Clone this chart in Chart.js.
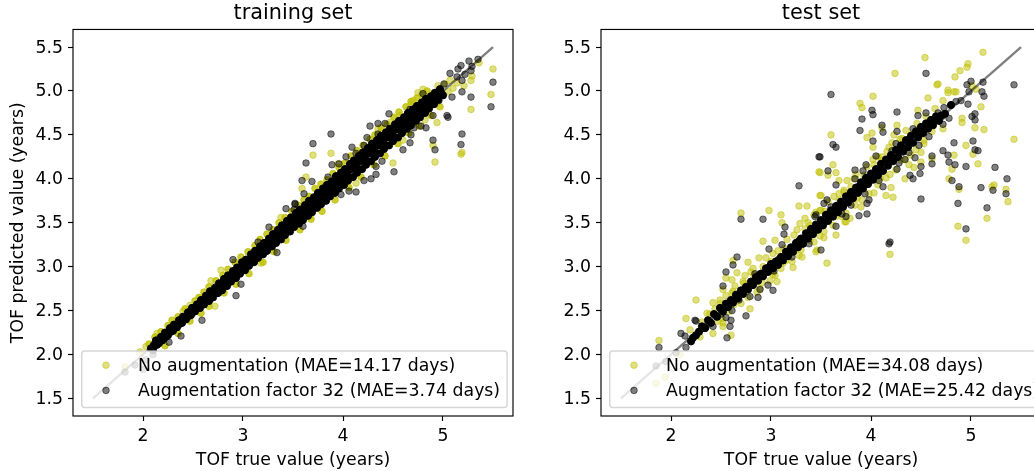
<!DOCTYPE html>
<html>
<head>
<meta charset="utf-8">
<title>TOF predicted vs true</title>
<script src="https://cdn.jsdelivr.net/npm/chart.js@4"></script>
<style>
    html, body { margin: 0; background: #fff; overflow: hidden; }
    #wrap { position: relative; width: 1034px; height: 471px; overflow: hidden; }
    canvas { position: absolute; top: 0; }
    #trainChart { left: 0; }
    #testChart { left: 528px; }
</style>
</head>
<body>
<div id="wrap">
    <canvas id="trainChart" width="530" height="471"></canvas>
    <canvas id="testChart" width="530" height="471"></canvas>
</div>
<script>
const xTicks = [2, 3, 4, 5];
const yTicks = [1.5, 2, 2.5, 3, 3.5, 4, 4.5, 5, 5.5];
const diagonal = [[1.5, 1.5], [5.5, 5.5]];

const trainLabels = ["No augmentation (MAE=14.17 days)", "Augmentation factor 32 (MAE=3.74 days)"];
const testLabels = ["No augmentation (MAE=34.08 days)", "Augmentation factor 32 (MAE=25.42 days)"];

// the loose points, then the overplotted band on its own
const trainNoAug = [
    [5.50,5.25],[5.48,4.96],[5.28,4.79],[5.36,5.32],[5.29,5.17],[5.28,5.12],[5.18,4.28],[5.19,4.30],[4.92,4.19],[4.90,4.38],
    [4.94,4.64],[4.75,4.98],[4.80,5.02],[3.88,4.29],[3.70,4.27],[4.50,4.18],[3.63,4.02],[3.59,3.89],[4.35,4.57],[4.68,4.84],
    [4.57,4.72],[4.47,4.64],[4.90,4.97],[4.95,5.06],[5.07,5.12],[5.21,5.06],[3.95,4.17],[3.67,3.57],[4.13,3.95],[4.60,4.44],
    [4.82,4.67],[4.70,4.89],[3.38,3.56],[2.78,2.96],[2.68,2.84],[2.47,2.56],[2.40,2.49],[2.14,2.24],[2.03,2.09],[1.97,2.03],
    [2.72,2.55],[3.18,3.04],[1.82,1.86],[5.02,5.08],[5.10,5.03],[5.14,5.09],[5.05,4.99]
];
const trainNoAugBand = [
    [2.06,2.12],[2.12,2.20],[2.18,2.26],[2.25,2.33],[2.29,2.39],[2.35,2.43],[2.42,2.52],[2.52,2.61],[2.56,2.65],[2.61,2.71],
    [2.66,2.77],[2.73,2.84],[2.80,2.90],[2.85,2.97],[2.92,3.05],[2.98,3.11],[3.05,3.17],[3.12,3.24],[3.17,3.31],[3.24,3.37],
    [3.30,3.42],[3.36,3.50],[3.42,3.56],[3.49,3.63],[3.55,3.70],[3.61,3.76],[3.66,3.80],[3.72,3.89],[3.78,3.94],[3.84,3.99],
    [3.90,4.06],[3.96,4.13],[4.02,4.18],[4.08,4.26],[4.14,4.32],[4.20,4.38],[4.27,4.45],[4.32,4.50],[4.38,4.58],[4.44,4.62],
    [4.51,4.70],[4.56,4.76],[4.63,4.82],[4.68,4.88],[4.74,4.92],[4.79,4.96],[4.84,5.00],
    [2.22,2.10],[2.35,2.24],[2.47,2.38],[2.58,2.47],[2.66,2.55],[2.81,2.70],[2.93,2.80],[3.06,2.92],[3.20,3.05],[3.31,3.17],
    [3.43,3.30],[3.57,3.42],[3.68,3.54],[3.79,3.63],[3.92,3.76],[4.06,3.90],[4.18,4.02],[4.31,4.16],[4.42,4.26],[4.55,4.40],
    [4.66,4.52],[4.76,4.60],[4.88,4.72],[4.97,4.82]
];
const trainAug = [
    [3.88,4.51],[3.70,4.40],[3.63,4.18],[3.59,3.98],[3.69,3.97],[3.52,3.71],[3.61,3.83],[3.89,4.16],[3.85,4.02],[3.96,4.17],
    [4.09,4.36],[4.03,4.25],[4.13,4.29],[4.21,4.38],[4.24,4.47],[4.27,4.60],[4.35,4.63],[4.42,4.63],[4.46,4.74],[4.35,4.51],
    [4.67,4.79],[4.80,4.97],[5.01,5.08],[5.07,5.20],[5.14,5.16],[5.18,5.29],[5.26,5.34],[5.29,5.28],[5.15,5.25],[5.22,5.19],
    [5.28,5.23],[5.35,5.36],[5.19,4.99],[5.28,4.93],[5.09,4.93],[5.50,5.10],[5.48,4.82],[5.19,4.51],[5.18,4.39],[4.90,4.44],
    [4.92,4.33],[5.04,4.72],[5.05,4.70],[4.90,4.72],[4.78,4.60],[4.83,4.58],[4.67,4.41],[4.60,4.33],[4.51,4.08],[4.33,4.05],
    [4.28,4.00],[4.21,3.98],[4.33,4.14],[4.39,4.20],[4.13,3.85],[4.06,3.86],[3.98,3.82],[4.68,4.50],[4.71,4.58],[4.96,4.89],
    [5.19,5.12],[3.60,3.46],[3.43,3.66],[3.52,3.72],[3.51,3.65],[3.26,3.45],[2.90,3.08],[2.93,2.67],[2.59,2.39],[2.38,2.21],
    [2.26,2.14],[2.98,2.80],[3.34,3.16],[3.15,3.28],[1.82,1.80],[1.92,1.88],[2.00,1.83],[2.03,1.94],[2.10,2.00]
];
const trainAugBand = [
    [2.08,2.07],[2.10,2.05],[2.11,2.11],[2.13,2.16],[2.14,2.11],[2.16,2.13],[2.18,2.20],[2.19,2.16],[2.21,2.18],[2.22,2.25],
    [2.24,2.21],[2.25,2.22],[2.27,2.30],[2.28,2.26],[2.30,2.27],[2.31,2.34],[2.33,2.31],[2.34,2.31],[2.36,2.39],[2.37,2.35],
    [2.39,2.36],[2.40,2.43],[2.42,2.40],[2.43,2.40],[2.45,2.48],[2.46,2.44],[2.48,2.45],[2.49,2.53],[2.51,2.49],[2.52,2.49],
    [2.54,2.57],[2.55,2.54],[2.57,2.53],[2.58,2.62],[2.60,2.59],[2.61,2.57],[2.63,2.67],[2.64,2.63],[2.66,2.61],[2.67,2.72],
    [2.69,2.68],[2.70,2.65],[2.72,2.76],[2.73,2.72],[2.75,2.70],[2.76,2.81],[2.78,2.77],[2.79,2.73],[2.81,2.86],[2.82,2.82],
    [2.84,2.78],[2.85,2.90],[2.87,2.86],[2.88,2.83],[2.90,2.95],[2.91,2.91],[2.93,2.87],[2.94,2.99],[2.96,2.95],[2.97,2.92],
    [2.99,3.05],[3.00,3.00],[3.02,2.96],[3.03,3.08],[3.05,3.04],[3.06,3.01],[3.08,3.14],[3.09,3.10],[3.11,3.05],[3.12,3.18],
    [3.14,3.13],[3.15,3.10],[3.17,3.23],[3.18,3.19],[3.20,3.14],[3.21,3.27],[3.23,3.23],[3.24,3.18],[3.26,3.32],[3.27,3.28],
    [3.29,3.23],[3.30,3.37],[3.32,3.33],[3.33,3.27],[3.35,3.42],[3.36,3.37],[3.38,3.31],[3.39,3.47],[3.41,3.41],[3.42,3.36],
    [3.44,3.52],[3.45,3.46],[3.47,3.40],[3.48,3.56],[3.50,3.51],[3.51,3.45],[3.53,3.61],[3.54,3.56],[3.56,3.49],[3.57,3.65],
    [3.59,3.60],[3.60,3.53],[3.62,3.70],[3.63,3.65],[3.65,3.58],[3.66,3.75],[3.68,3.69],[3.69,3.62],[3.71,3.79],[3.72,3.74],
    [3.74,3.67],[3.75,3.84],[3.77,3.78],[3.78,3.71],[3.80,3.89],[3.81,3.83],[3.83,3.75],[3.84,3.93],[3.86,3.88],[3.87,3.80],
    [3.89,3.97],[3.90,3.92],[3.92,3.84],[3.93,4.03],[3.95,3.97],[3.96,3.89],[3.98,4.07],[3.99,4.01],[4.01,3.93],[4.02,4.11],
    [4.04,4.06],[4.05,3.98],[4.07,4.17],[4.08,4.11],[4.10,4.02],[4.11,4.21],[4.13,4.15],[4.14,4.07],[4.16,4.26],[4.17,4.20],
    [4.19,4.11],[4.20,4.30],[4.22,4.24],[4.23,4.16],[4.25,4.35],[4.26,4.29],[4.28,4.20],[4.29,4.40],[4.31,4.33],[4.32,4.25],
    [4.34,4.44],[4.35,4.38],[4.37,4.29],[4.38,4.49],[4.40,4.42],[4.41,4.34],[4.43,4.53],[4.44,4.47],[4.46,4.38],[4.47,4.57],
    [4.49,4.51],[4.50,4.43],[4.52,4.62],[4.53,4.56],[4.55,4.47],[4.56,4.66],[4.58,4.60],[4.59,4.52],[4.61,4.70],[4.62,4.64],
    [4.64,4.57],[4.65,4.75],[4.67,4.69],[4.68,4.61],[4.70,4.79],[4.71,4.73],[4.73,4.66],[4.74,4.83],[4.76,4.78],[4.77,4.70],
    [4.79,4.87],[4.80,4.82],[4.82,4.75],[4.83,4.91],[4.85,4.86],[4.86,4.80],[4.88,4.94],[4.89,4.90],[4.91,4.85],[4.92,4.98],
    [4.94,4.94],[4.95,4.90],[4.97,5.02],[4.98,4.98],[5.00,4.95]
];

const testNoAug = [
    [3.48,4.08],[3.49,3.81],[3.28,3.69],[3.36,3.69],[2.70,3.61],[2.98,3.64],[3.10,3.59],[3.11,3.50],[3.34,3.55],[3.29,3.49],
    [3.39,3.47],[3.49,3.64],[4.54,5.38],[5.12,5.44],[4.24,5.20],[4.97,5.31],[4.96,5.27],[4.89,5.23],[4.84,5.16],[4.67,5.08],
    [4.66,5.07],[5.01,5.06],[5.05,5.02],[4.77,5.01],[4.77,4.98],[4.85,4.99],[4.83,4.99],[4.57,4.92],[4.72,4.89],[4.02,4.94],
    [3.89,4.86],[3.91,4.81],[4.47,4.78],[4.64,4.80],[5.10,4.82],[4.91,4.69],[4.91,4.64],[5.04,4.58],[5.13,4.56],[5.43,4.45],
    [4.72,4.57],[4.26,4.61],[4.11,4.58],[4.01,4.52],[3.96,4.47],[3.60,4.50],[4.23,4.50],[4.02,4.36],[4.95,4.38],[5.02,4.28],
    [4.83,4.27],[5.07,4.17],[4.81,4.11],[4.78,4.00],[3.62,4.16],[3.49,4.07],[3.57,4.04],[3.65,4.07],[3.68,3.98],[4.34,4.00],
    [4.20,3.90],[4.15,3.81],[4.22,3.79],[4.88,3.88],[5.23,3.93],[5.21,3.91],[5.35,3.88],[5.37,3.74],[5.16,3.55],[4.87,3.46],
    [3.50,3.81],[3.50,3.64],[3.79,3.55],[3.74,3.51],[3.90,3.68],[4.03,3.84],[4.03,4.16],[4.16,4.31],[4.40,4.50],[4.50,4.30],
    [4.43,4.13],[4.38,4.16],[4.50,4.19],[4.61,4.23],[3.80,3.91],[3.68,3.83],[3.73,3.87],[3.93,3.95],[4.01,4.02],[4.11,4.21],
    [4.95,3.30],[4.19,3.14],[3.56,3.04],[3.65,3.36],[3.45,3.17],[3.53,3.33],[3.75,3.51],
    [1.88,2.16],[1.85,1.67],[1.94,1.74],[2.09,2.00],[2.15,2.41],[2.25,2.62],[2.42,2.59],[2.79,2.52],[2.42,2.24],[2.60,2.22],
    [2.52,2.36],[2.52,2.32],[2.55,2.87],[2.61,2.85],[2.66,2.93],[2.62,3.07],[2.77,3.05],[2.92,3.29],[3.04,3.30],[2.88,3.10],
    [2.80,2.94],[2.72,2.83],[2.52,2.74],[2.61,2.70],[2.49,2.58],[3.02,2.91],[3.06,2.83],[2.92,2.94],[3.22,2.99],[3.31,3.11],
    [3.46,3.19],[3.12,3.04],[3.32,3.27],[2.89,2.75],[2.29,2.20],[2.19,2.28],[3.00,3.06]
];
const testNoAugBand = [
    [2.31,2.37],[2.36,2.47],[2.44,2.52],[2.47,2.38],[2.55,2.67],[2.58,2.49],[2.64,2.78],[2.70,2.58],[2.74,2.90],[2.83,2.91],
    [2.86,2.71],[2.95,3.10],[2.99,2.84],[3.07,3.18],[3.10,2.98],[3.16,3.31],[3.21,3.06],[3.26,3.42],[3.30,3.19],[3.37,3.50],
    [3.43,3.28],[3.45,3.62],[3.53,3.40],[3.57,3.74],[3.62,3.47],[3.68,3.75],[3.71,3.57],[3.76,3.98],[3.84,3.70],[3.85,4.05],
    [3.91,3.76],[3.96,4.14],[4.07,3.93],[4.07,4.25],[4.15,4.01],[4.18,4.36],[4.25,4.10],[4.29,4.45],[4.34,4.22],[4.35,4.55],
    [4.45,4.33],[4.46,4.63],[4.53,4.44],[4.55,4.71],[4.61,4.54],
    [2.39,2.46],[2.49,2.62],[2.62,2.72],[2.73,2.81],[2.82,2.98],[2.92,3.00],[3.02,3.15],[3.13,3.21],[3.23,3.36],[3.34,3.43],
    [3.43,3.59],[3.54,3.63],[3.63,3.80],[3.73,3.85],[3.83,4.00],[3.93,4.04],[4.02,4.22],[4.11,4.25],[4.21,4.41],[4.31,4.46],
    [2.51,2.41],[2.63,2.57],[2.77,2.65],[2.91,2.82],[3.04,2.90],[3.15,3.07],[3.28,3.13],[3.39,3.30],[3.49,3.35],[3.65,3.57],
    [3.75,3.61],[3.86,3.78],[3.98,3.83],[4.09,4.01],[4.19,4.05],[4.30,4.21],[4.40,4.27],[4.53,4.40]
];
const testAug = [
    [3.48,4.25],[3.28,3.92],[2.70,3.54],[2.92,3.54],[3.14,3.45],[3.44,3.57],[3.60,4.96],[4.55,5.20],[5.43,5.07],[4.01,4.78],
    [4.02,4.73],[3.91,4.68],[3.89,4.55],[4.11,4.61],[4.12,4.53],[4.26,4.76],[4.26,4.54],[4.47,4.72],[4.55,4.75],[4.42,4.57],
    [4.02,4.43],[3.62,4.39],[3.65,4.36],[3.49,4.25],[3.57,4.09],[4.05,4.26],[4.25,4.40],[3.65,3.93],[3.84,4.10],[3.95,4.16],
    [3.92,4.09],[3.84,4.00],[4.26,4.11],[4.34,4.22],[4.44,4.24],[4.50,4.14],[4.49,4.06],[4.39,4.04],[4.42,4.00],[4.61,4.26],
    [4.61,4.17],[4.72,4.32],[4.77,4.27],[4.78,4.19],[4.84,4.16],[4.83,4.41],[4.95,4.14],[5.02,4.43],[5.04,4.33],[5.07,4.32],
    [5.24,4.13],[5.36,4.00],[5.35,3.83],[5.22,3.87],[5.10,3.90],[4.88,3.91],[4.81,3.98],[4.50,3.77],[4.87,3.72],[5.16,3.67],
    [4.95,3.43],[5.01,4.71],[5.04,4.74],[5.04,4.67],[4.97,4.85],[5.11,4.99],[5.13,4.94],[4.98,4.99],[5.12,5.10],[5.00,5.11],
    [4.96,5.07],[4.90,4.89],[4.85,4.88],[4.72,4.62],[4.78,4.69],[4.71,4.71],[4.73,4.81],[4.67,4.75],[3.96,3.60],[3.88,3.58],
    [3.96,3.72],[3.98,3.76],[3.53,3.72],[3.56,3.76],[3.65,3.46],[3.75,3.57],[4.12,3.91],[3.45,3.59],[4.19,3.28],[4.18,3.26],
    [3.50,3.19],[2.66,3.11],[2.62,3.02],[2.55,2.94],[2.52,2.78],[2.24,2.39],[2.25,2.38],[2.60,2.39],[2.59,2.32],[2.56,2.19],
    [2.75,2.44],[2.87,2.65],[3.02,2.73],[2.97,2.79],[2.89,2.74],[2.79,2.66],[2.98,3.20],[3.13,3.37],[3.11,3.25],[2.10,2.24],
    [2.14,2.21],[2.15,2.08],[1.88,2.08],[1.85,1.87],[2.05,2.02],[1.95,1.92],[2.42,2.32],[2.61,2.50],[2.55,2.42],[2.32,2.30],
    [2.35,2.31],[2.50,2.46],[2.68,2.62],[2.84,2.92],[3.03,2.95],[3.21,3.11],[3.38,3.26],[3.60,3.68],[3.71,3.60],[3.80,3.70],
    [3.94,3.83],[4.08,3.98],[4.21,4.32],[4.28,4.18],[4.38,4.30],[4.48,4.38],[4.58,4.48]
];
const testAugBand = [
    [2.20,2.15],[2.22,2.19],[2.25,2.22],[2.28,2.26],[2.31,2.32],[2.34,2.30],[2.37,2.39],[2.40,2.36],[2.43,2.46],[2.46,2.43],
    [2.49,2.53],[2.52,2.49],[2.55,2.58],[2.57,2.54],[2.60,2.62],[2.62,2.59],[2.65,2.68],[2.67,2.64],[2.70,2.73],[2.72,2.69],
    [2.75,2.77],[2.77,2.74],[2.80,2.83],[2.82,2.79],[2.85,2.88],[2.87,2.84],[2.90,2.92],[2.92,2.89],[2.95,2.98],[2.97,2.94],
    [3.00,3.03],[3.02,2.98],[3.05,3.06],[3.07,3.02],[3.10,3.11],[3.12,3.07],[3.15,3.17],[3.17,3.12],[3.20,3.22],[3.22,3.17],
    [3.25,3.27],[3.27,3.22],[3.30,3.32],[3.32,3.26],[3.35,3.38],[3.37,3.32],[3.40,3.43],[3.42,3.37],[3.45,3.48],[3.47,3.42],
    [3.50,3.53],[3.52,3.47],[3.55,3.59],[3.57,3.52],[3.60,3.64],[3.62,3.57],[3.65,3.69],[3.67,3.62],[3.70,3.74],[3.72,3.68],
    [3.75,3.80],[3.77,3.73],[3.80,3.85],[3.82,3.78],[3.85,3.90],[3.87,3.84],[3.90,3.96],[3.92,3.89],[3.95,4.01],[3.97,3.94],
    [4.00,4.06],[4.02,3.99],[4.05,4.11],[4.07,4.04],[4.10,4.17],[4.12,4.09],[4.15,4.22],[4.17,4.15],[4.20,4.27],[4.22,4.20],
    [4.25,4.33],[4.27,4.25],[4.30,4.38],[4.32,4.31],[4.35,4.44],[4.37,4.36],[4.40,4.49],[4.42,4.41],[4.45,4.54],[4.47,4.47],
    [4.50,4.59],[4.52,4.52],[4.55,4.63],[4.57,4.57],[4.60,4.67],[4.62,4.61],[4.65,4.71],[4.68,4.66],[4.74,4.74],[4.80,4.84],
    [2.88,2.90],[2.98,2.99],[3.08,3.08],[3.18,3.17],[3.28,3.29],[3.38,3.37],[3.48,3.46],[3.58,3.60],[3.68,3.67],[3.78,3.80],
    [3.88,3.91],[3.98,4.00],[4.08,4.09],[4.18,4.22],[4.28,4.32],[4.38,4.44],[4.48,4.51],[4.58,4.63],[4.66,4.69],[4.70,4.72]
];

const yellow = "rgba(191, 191, 0, 0.5)";
const yellowBand = "rgba(191, 191, 0, 0.8)";
const black = "rgba(0, 0, 0, 0.5)";
const blackBand = "rgb(0, 0, 0)";

Chart.defaults.color = "#000";
Chart.defaults.font.family = "'DejaVu Sans'";
Chart.defaults.font.size = 17.3;

function toPoints(rows) {
    return rows.map(function (r) { return { x: r[0], y: r[1] }; });
}

function dots(label, rows, color, order, radius) {
    return { label: label, data: toPoints(rows), order: order, backgroundColor: color, borderColor: color, borderWidth: 1, pointRadius: radius };
}

// spines and the legend box, which sits inside the plot over the points
const framePlugin = {
    id: "frame",
    afterDraw: function (chart, args, opts) {
        const ctx = chart.ctx;
        const area = chart.chartArea;
        ctx.save();
        ctx.strokeStyle = "#000";
        ctx.lineWidth = 1.15;
        ctx.strokeRect(area.left, area.top, area.right - area.left, area.bottom - area.top);

        ctx.font = "17.3px 'DejaVu Sans'";
        let textWidth = 0;
        opts.labels.forEach(function (t) { textWidth = Math.max(textWidth, ctx.measureText(t).width); });

        ctx.beginPath();
        ctx.roundRect(81.7, 351, 56.3 + textWidth + 7, 56.5, 3);
        ctx.fillStyle = "rgba(255, 255, 255, 0.8)";
        ctx.fill();
        ctx.strokeStyle = "rgba(204, 204, 204, 0.8)";
        ctx.lineWidth = 1.4;
        ctx.stroke();

        [yellow, black].forEach(function (color, i) {
            const y = 365.2 + i * 25.2;
            ctx.beginPath();
            ctx.arc(106, y, 3.3, 0, Math.PI * 2);
            ctx.fillStyle = color;
            ctx.strokeStyle = color;
            ctx.lineWidth = 1;
            ctx.fill();
            ctx.stroke();
            ctx.fillStyle = "#000";
            ctx.textBaseline = "middle";
            ctx.fillText(opts.labels[i], 138, y + 1.5);
        });
        ctx.restore();
    }
};

function makeChart(id, title, noAug, noAugBand, noAugBandColor, aug, augBand, labels, yTitle) {
    const ctx = document.getElementById(id).getContext("2d");
    return new Chart(ctx, {
        type: "scatter",
        plugins: [framePlugin],
        data: {
            datasets: [
                dots(labels[0], noAug, yellow, 5, 3.3),
                dots(labels[0] + " band", noAugBand, noAugBandColor, 4, 3.3),
                dots(labels[1], aug, black, 3, 3.3),
                dots(labels[1] + " band", augBand, blackBand, 2, 3.6),
                { label: "y = x", data: toPoints(diagonal), order: 1, showLine: true, pointRadius: 0, borderColor: black, borderWidth: 2.4 }
            ]
        },
        options: {
            responsive: false,
            animation: false,
            events: [],
            layout: { padding: { left: 0, right: 17, top: 0, bottom: 0 } },
            plugins: {
                legend: { display: false },
                tooltip: { enabled: false },
                title: {
                    display: true,
                    text: title,
                    fullSize: false,
                    font: { size: 20.8, weight: "normal" },
                    padding: { top: 1, bottom: 3.5 }
                },
                frame: { labels: labels }
            },
            scales: {
                x: {
                    min: 1.3,
                    max: 5.7,
                    afterBuildTicks: function (s) { s.ticks = xTicks.map(function (v) { return { value: v }; }); },
                    afterFit: function (s) { s.height = 55; },
                    border: { display: false },
                    grid: { drawOnChartArea: false, color: "#000", tickLength: 5, tickWidth: 1.15 },
                    ticks: { maxRotation: 0, autoSkip: false, padding: 5, callback: function (v) { return String(v); } },
                    title: { display: true, text: "TOF true value (years)", padding: { top: 0, bottom: 0 } }
                },
                y: {
                    min: 1.3,
                    max: 5.7,
                    afterBuildTicks: function (s) { s.ticks = yTicks.map(function (v) { return { value: v }; }); },
                    afterFit: function (s) { s.width = 73; },
                    border: { display: false },
                    grid: { drawOnChartArea: false, color: "#000", tickLength: 5, tickWidth: 1.15 },
                    ticks: { autoSkip: false, padding: 5, labelOffset: 1, callback: function (v) { return Number(v).toFixed(1); } },
                    title: { display: yTitle, text: "TOF predicted value (years)", padding: { top: 8.6, bottom: 0 } }
                }
            }
        }
    });
}

makeChart("trainChart", "training set", trainNoAug, trainNoAugBand, yellowBand, trainAug, trainAugBand, trainLabels, true);
makeChart("testChart", "test set", testNoAug, testNoAugBand, yellow, testAug, testAugBand, testLabels, false);
</script>
</body>
</html>
